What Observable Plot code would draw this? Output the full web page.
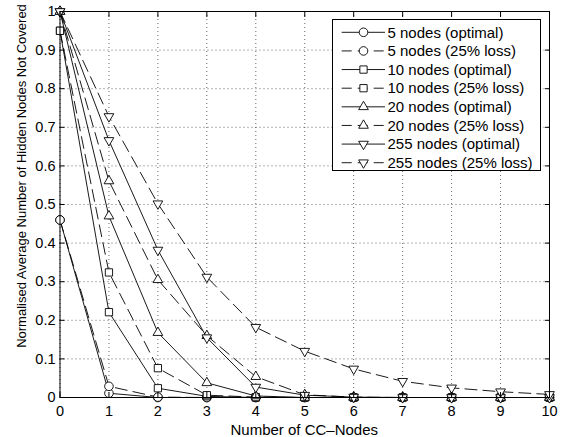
<!DOCTYPE html>
<html>
<head>
<meta charset="utf-8">
<script src="https://cdn.jsdelivr.net/npm/d3@7"></script>
<script src="https://cdn.jsdelivr.net/npm/@observablehq/plot@0.6"></script>
<style>
  html, body { margin: 0; padding: 0; background: #fff; }
  #chart svg { display: block; }
</style>
</head>
<body>
<div id="chart"></div>
<script>
// Number of CC-nodes on the x axis
const ccNodes = [0, 1, 2, 3, 4, 5, 6, 7, 8, 9, 10];

// Normalised average number of hidden nodes not covered
const nodes5Optimal    = [0.46, 0.011, 0, 0, 0, 0, 0, 0, 0, 0, 0];
const nodes5Loss       = [0.46, 0.029, 0.001, 0, 0, 0, 0, 0, 0, 0, 0];
const nodes10Optimal   = [0.95, 0.221, 0.024, 0.003, 0, 0, 0, 0, 0, 0, 0];
const nodes10Loss      = [0.95, 0.324, 0.076, 0.006, 0.001, 0, 0, 0, 0, 0, 0];
const nodes20Optimal   = [1, 0.47, 0.168, 0.038, 0.004, 0, 0, 0, 0, 0, 0];
const nodes20Loss      = [1, 0.561, 0.305, 0.16, 0.054, 0.007, 0.001, 0, 0, 0, 0];
const nodes255Optimal  = [1, 0.666, 0.382, 0.155, 0.027, 0.006, 0.001, 0, 0, 0, 0];
const nodes255Loss     = [1, 0.728, 0.502, 0.312, 0.182, 0.12, 0.074, 0.042, 0.025, 0.015, 0.008];

const seriesNames = [
  "5 nodes (optimal)", "5 nodes (25% loss)",
  "10 nodes (optimal)", "10 nodes (25% loss)",
  "20 nodes (optimal)", "20 nodes (25% loss)",
  "255 nodes (optimal)", "255 nodes (25% loss)"
];
const seriesValues = [
  nodes5Optimal, nodes5Loss,
  nodes10Optimal, nodes10Loss,
  nodes20Optimal, nodes20Loss,
  nodes255Optimal, nodes255Loss
];

const xTicks = [0, 1, 2, 3, 4, 5, 6, 7, 8, 9, 10];
const yTicks = [0, 0.1, 0.2, 0.3, 0.4, 0.5, 0.6, 0.7, 0.8, 0.9, 1];
const xLabel = "Number of CC\u2013Nodes";
const yLabel = "Normalised Average Number of Hidden Nodes Not Covered";

// Downward-pointing triangle, mirror of d3.symbolTriangle
const symbolTriangleDown = {
  draw(context, size) {
    const y = Math.sqrt(size / (Math.sqrt(3) * 3));
    context.moveTo(0, 2 * y);
    context.lineTo(-Math.sqrt(3) * y, -y);
    context.lineTo(Math.sqrt(3) * y, -y);
    context.closePath();
  }
};

const markerStyles = [
  {symbol: "circle", d3symbol: d3.symbolCircle, r: 4.3},
  {symbol: "square", d3symbol: d3.symbolSquare, r: 4.1},
  {symbol: "triangle", d3symbol: d3.symbolTriangle, r: 3.6},
  {symbol: symbolTriangleDown, d3symbol: symbolTriangleDown, r: 3.6}
];
const dash = "12,6";

const series = seriesNames.map((name, i) => ({
  name,
  values: seriesValues[i],
  marker: markerStyles[Math.floor(i / 2)],
  dashed: i % 2 === 1
}));

const W = 567, H = 437;
const mLeft = 59.5, mRight = 18, mTop = 11, mBottom = 40;
const font = "'Liberation Sans', Arial, Helvetica, sans-serif";

const seriesMarks = series.flatMap(s => {
  const rows = ccNodes.map((x, i) => ({x, y: s.values[i]}));
  return [
    Plot.line(rows, {x: "x", y: "y", stroke: "black", strokeWidth: 0.9,
      strokeDasharray: s.dashed ? dash : null}),
    Plot.dot(rows, {x: "x", y: "y", symbol: s.marker.symbol, r: s.marker.r,
      stroke: "black", fill: "white", strokeWidth: 0.9})
  ];
});

const gridStyle = {stroke: "#000", strokeOpacity: 0.6, strokeWidth: 1, strokeDasharray: "1,3"};

const chart = Plot.plot({
  width: W,
  height: H,
  marginLeft: mLeft,
  marginRight: mRight,
  marginTop: mTop,
  marginBottom: mBottom,
  style: {fontFamily: font, fontSize: "14.5px", background: "white", color: "black"},
  x: {domain: [0, 10]},
  y: {domain: [0, 1]},
  marks: [
    Plot.gridX(xTicks, gridStyle),
    Plot.gridY(yTicks, gridStyle),
    ...seriesMarks,
    Plot.frame({stroke: "black", strokeWidth: 1}),
    Plot.axisX(xTicks, {anchor: "bottom", tickSize: -5, tickPadding: 13, label: null,
      tickFormat: d => String(d), fontSize: 14.5}),
    Plot.axisX(xTicks, {anchor: "top", tickSize: -5, label: null, tickFormat: () => ""}),
    Plot.axisY(yTicks, {anchor: "left", tickSize: -5, tickPadding: 9.5, label: null,
      tickFormat: d3.format("~g"), fontSize: 14.5}),
    Plot.axisY(yTicks, {anchor: "right", tickSize: -5, label: null, tickFormat: () => ""})
  ]
});

const svg = d3.select(chart);

// Axis titles
svg.append("text")
  .attr("x", (mLeft + W - mRight) / 2)
  .attr("y", 434.5)
  .attr("text-anchor", "middle")
  .attr("font-family", font)
  .attr("font-size", 15)
  .attr("fill", "black")
  .text(xLabel);

svg.append("text")
  .attr("transform", "translate(25.5,176) rotate(-90)")
  .attr("text-anchor", "middle")
  .attr("font-family", font)
  .attr("font-size", 13)
  .attr("fill", "black")
  .text(yLabel);

// Legend box in the upper right corner
const legend = svg.append("g")
  .attr("font-family", font)
  .attr("font-size", 15)
  .attr("text-anchor", "start");
const lx = 332.5, ly = 19.5, lw = 208, lh = 151;
legend.append("rect")
  .attr("x", lx).attr("y", ly).attr("width", lw).attr("height", lh)
  .attr("fill", "white").attr("stroke", "black").attr("stroke-width", 1);

series.forEach((s, i) => {
  const cy = 32.3 + i * 18.63;
  const row = legend.append("g");
  row.append("line")
    .attr("x1", 341.7).attr("x2", 385).attr("y1", cy).attr("y2", cy)
    .attr("stroke", "black").attr("stroke-width", 0.9)
    .attr("stroke-dasharray", s.dashed ? "10,6" : null);
  row.append("path")
    .attr("transform", `translate(363.5,${cy})`)
    .attr("d", d3.symbol(s.marker.d3symbol, Math.PI * s.marker.r * s.marker.r)())
    .attr("fill", "white").attr("stroke", "black").attr("stroke-width", 0.9);
  row.append("text")
    .attr("x", 387.5).attr("y", cy + 5.3)
    .attr("text-anchor", "start")
    .attr("fill", "black")
    .text(s.name);
});

document.getElementById("chart").appendChild(chart);
</script>
</body>
</html>
